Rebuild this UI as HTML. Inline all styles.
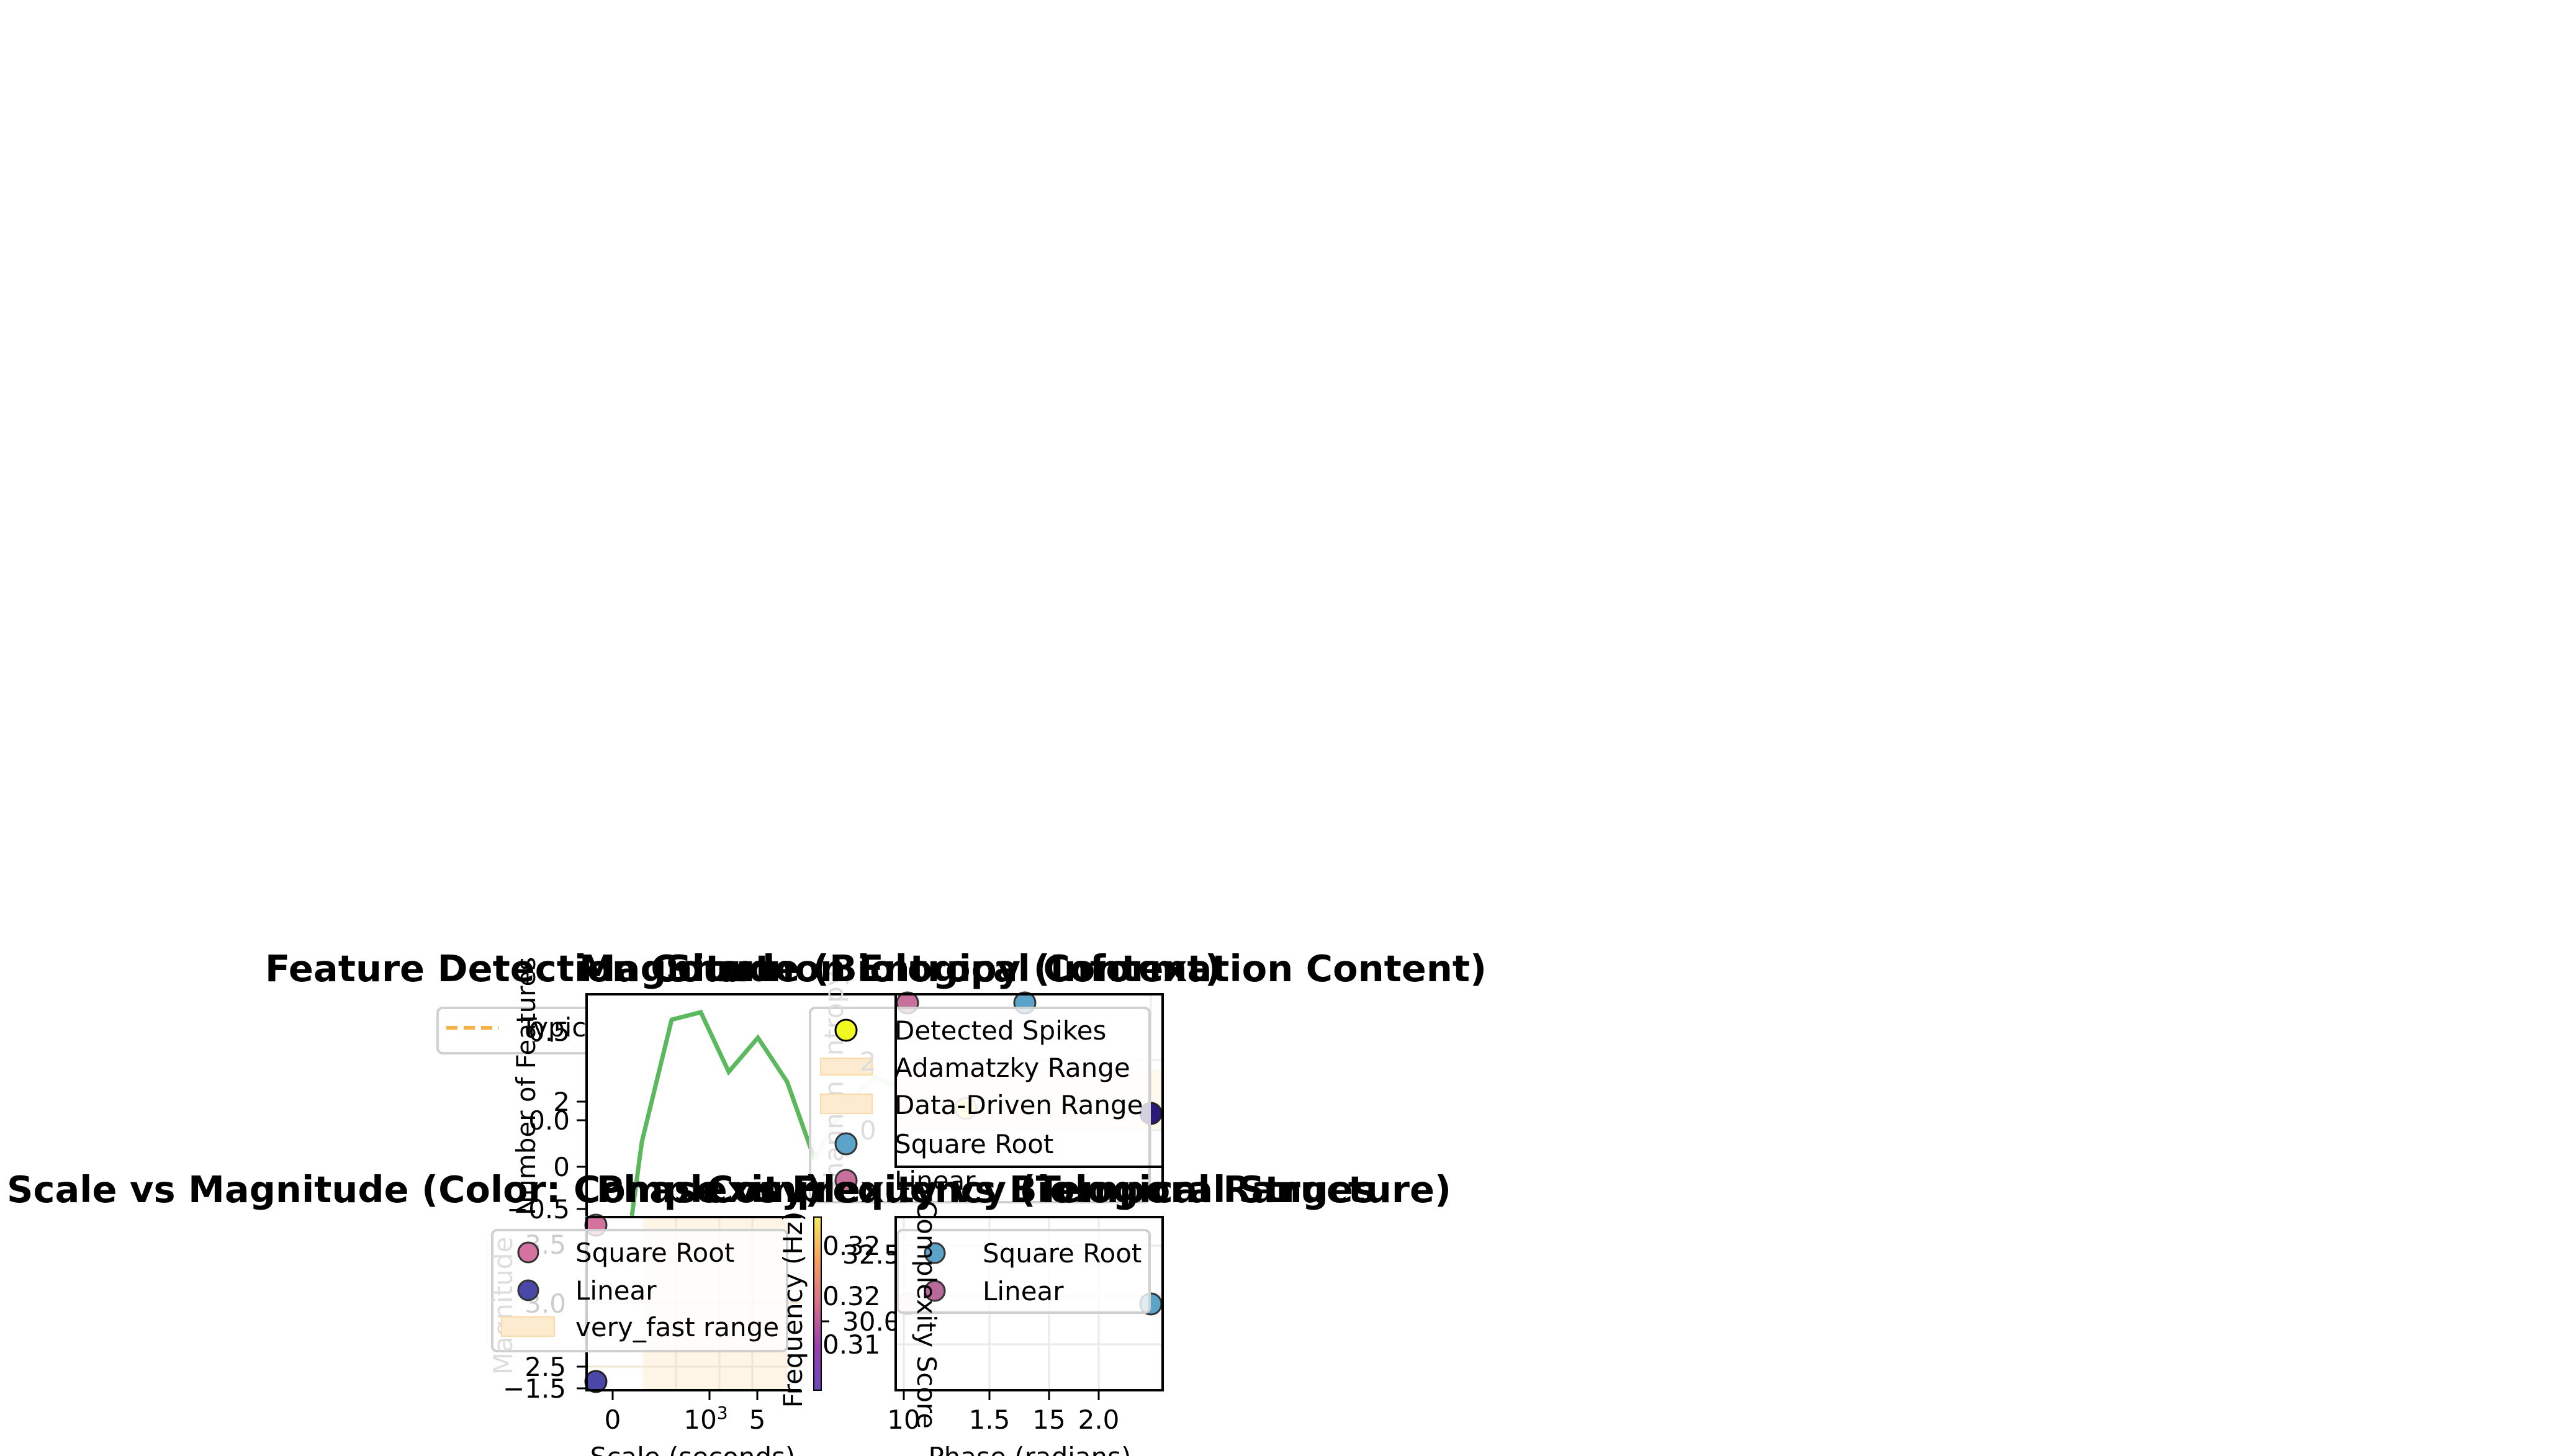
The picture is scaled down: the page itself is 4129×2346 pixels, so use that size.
<!DOCTYPE html>
<html><head><meta charset="utf-8"><style>html,body{margin:0;padding:0;background:#fff}svg{display:block}</style></head>
<body>
<svg xmlns="http://www.w3.org/2000/svg" width="4129" height="2346" viewBox="0 0 4129 2346" font-family="'DejaVu Sans','Liberation Sans',sans-serif">
<defs>
<linearGradient id="plasma" x1="0" y1="1" x2="0" y2="0">
<stop offset="0" stop-color="#6a4bb8"/><stop offset="0.25" stop-color="#9a3fb0"/><stop offset="0.5" stop-color="#d4708c"/><stop offset="0.75" stop-color="#f5a060"/><stop offset="1" stop-color="#f3ea60"/>
</linearGradient>
</defs>
<rect width="4129" height="2346" fill="#fff"/>

<rect x="705" y="1624" width="300" height="73" rx="8" fill="#fff" stroke="#d0d0d0" stroke-width="4"/>
<line x1="719" y1="1656" x2="804" y2="1656" stroke="#f5b041" stroke-width="6" stroke-dasharray="18,10"/>
<text x="839" y="1670" font-size="42">Typic</text>

<rect x="945" y="1602" width="928" height="305" fill="#fff"/>
<polyline points="1018,1959 1034,1840 1082,1643 1129,1631 1174,1727 1221,1672 1268,1743 1312,1867" fill="none" stroke="#5cb85c" stroke-width="7"/>
<polyline points="1312,1867 1361,1781 1410,1735 1440,1750" fill="none" stroke="#d8eed8" stroke-width="7"/>
<rect x="1443" y="1724" width="430" height="97" fill="#fff8ec"/>
<line x1="1443" y1="1708" x2="1873" y2="1708" stroke="#eee" stroke-width="3"/>
<line x1="1443" y1="1821" x2="1873" y2="1821" stroke="#eee" stroke-width="3"/>
<line x1="1854" y1="1602" x2="1854" y2="1880" stroke="#eee" stroke-width="3"/>
<circle cx="1462" cy="1616" r="17" fill="#c8709c" stroke="#333" stroke-width="3"/>
<circle cx="1651" cy="1616" r="17" fill="#5ba3c8" stroke="#333" stroke-width="3"/>
<circle cx="1556" cy="1786" r="17" fill="#f5f28a" stroke="#999" stroke-width="3"/>
<circle cx="1854" cy="1794" r="17" fill="#2b1a7a" stroke="#222" stroke-width="3"/>
<polyline points="945,1960 945,1602 1873,1602 1873,1907" fill="none" stroke="#000" stroke-width="4"/>
<g font-size="42" text-anchor="end" fill="#000">
<text x="918" y="1677">0.5</text>
<text x="918" y="1790">2</text>
<text x="918" y="1820">0.0</text>
<text x="918" y="1895">0</text>
<text x="918" y="1963">−0.5</text>
</g>
<g stroke="#000" stroke-width="3">
<line x1="929" y1="1775" x2="945" y2="1775"/><line x1="929" y1="1805" x2="945" y2="1805"/><line x1="929" y1="1880" x2="945" y2="1880"/><line x1="929" y1="1948" x2="945" y2="1948"/>
</g>
<text transform="translate(862,1750) rotate(-90)" font-size="42" text-anchor="middle">Number of Features</text>

<rect x="1305" y="1624" width="547" height="313" rx="8" fill="#fff" fill-opacity="0.8" stroke="#d0d0d0" stroke-width="4"/>
<text transform="translate(1358,1745) rotate(-90)" font-size="42" text-anchor="middle" fill="#ddd">Shannon Entropy</text>
<circle cx="1363" cy="1660" r="17" fill="#f0f921" stroke="#000" stroke-width="3"/>
<rect x="1322" y="1705" width="83" height="27" fill="#fdebd0" stroke="#fcd9a8" stroke-width="2"/>
<rect x="1322" y="1763" width="83" height="31" fill="#fdebd0" stroke="#fcd9a8" stroke-width="2"/>
<circle cx="1363" cy="1843" r="17" fill="#5ba3c8" stroke="#333" stroke-width="3"/>
<circle cx="1363" cy="1902" r="17" fill="#c8709c" stroke="#333" stroke-width="3"/>
<g font-size="42" fill="#ddd"><text x="1385" y="1725">2</text><text x="1385" y="1836">0</text></g>
<g font-size="42" fill="#000">
<text x="1441" y="1675">Detected Spikes</text>
<text x="1441" y="1735">Adamatzky Range</text>
<text x="1441" y="1795">Data-Driven Range</text>
<text x="1441" y="1858">Square Root</text>
<text x="1441" y="1917">Linear</text>
</g>
<rect x="1443" y="1602" width="430" height="278" fill="none" stroke="#000" stroke-width="4"/>

<g font-weight="bold" font-size="59" fill="#000">
<text x="427" y="1581">Feature Detection Count</text>
<text x="933" y="1581">Magnitude (Biological Context)</text>
<text x="2395" y="1581" text-anchor="end">Shannon Entropy (Information Content)</text>
<text x="11" y="1937">Scale vs Magnitude (Color: Complexity)</text>
<text x="2338" y="1937" text-anchor="end">Phase vs Frequency (Temporal Structure)</text>
<text x="2215" y="1937" text-anchor="end">Complexity vs Biological Ranges</text>
</g>

<rect x="945" y="1961" width="345" height="279" fill="#fff"/>
<rect x="1036" y="1961" width="232" height="279" fill="#fff5e6"/>
<g stroke="#f0e4d2" stroke-width="3">
<line x1="1089" y1="1961" x2="1089" y2="2240"/><line x1="1159" y1="1961" x2="1159" y2="2240"/><line x1="1212" y1="1961" x2="1212" y2="2240"/>
<line x1="945" y1="2099" x2="1290" y2="2099"/><line x1="945" y1="2202" x2="1290" y2="2202"/>
</g>
<circle cx="960" cy="1974" r="17" fill="#d672a0" stroke="#333" stroke-width="3"/>
<circle cx="960" cy="2226" r="17" fill="#4b47a8" stroke="#222" stroke-width="3"/>
<polyline points="945,1961 945,2240 1290,2240" fill="none" stroke="#000" stroke-width="4"/>
<line x1="945" y1="1961" x2="1290" y2="1961" stroke="#000" stroke-width="4"/>
<rect x="793" y="1982" width="475" height="195" rx="8" fill="#fff" fill-opacity="0.8" stroke="#d0d0d0" stroke-width="4"/>
<text transform="translate(825,2104) rotate(-90)" font-size="42" text-anchor="middle" fill="#ddd">Magnitude</text>
<g font-size="42" fill="#ccc" text-anchor="end"><text x="912" y="2020">3.5</text><text x="912" y="2115">3.0</text></g>
<circle cx="851" cy="2018" r="16" fill="#d672a0" stroke="#333" stroke-width="3"/>
<circle cx="851" cy="2079" r="16" fill="#4b47a8" stroke="#333" stroke-width="3"/>
<rect x="808" y="2122" width="85" height="31" fill="#fdebd0" stroke="#fcd9a8" stroke-width="2"/>
<g font-size="42"><text x="927" y="2033">Square Root</text><text x="927" y="2094">Linear</text><text x="927" y="2153">very_fast range</text></g>
<g font-size="42" text-anchor="end"><text x="912" y="2217">2.5</text><text x="912" y="2252">−1.5</text></g>
<g stroke="#000" stroke-width="3"><line x1="929" y1="2202" x2="945" y2="2202"/><line x1="929" y1="2237" x2="945" y2="2237"/>
<line x1="987" y1="2240" x2="987" y2="2256"/><line x1="1143" y1="2240" x2="1143" y2="2256"/><line x1="1220" y1="2240" x2="1220" y2="2256"/></g>
<g font-size="42" text-anchor="middle"><text x="987" y="2302">0</text><text x="1137" y="2302">10<tspan font-size="28" dy="-16">3</tspan></text><text x="1220" y="2302">5</text></g>
<text x="1116" y="2362" font-size="42" text-anchor="middle">Scale (seconds)</text>

<rect x="1311" y="1961" width="12" height="279" fill="url(#plasma)" stroke="#000" stroke-width="2"/>
<text transform="translate(1292,2110) rotate(-90)" font-size="42" text-anchor="middle">Frequency (Hz)</text>
<g font-size="42"><text x="1325" y="2022">0.32</text><text x="1325" y="2103">0.32</text><text x="1325" y="2181">0.31</text>
<text x="1357" y="2036">32.5</text><text x="1357" y="2144">30.0</text></g>
<g stroke="#000" stroke-width="3"><line x1="1323" y1="2129" x2="1336" y2="2129"/><line x1="1430" y1="2021" x2="1443" y2="2021"/><line x1="1430" y1="2129" x2="1443" y2="2129"/></g>

<rect x="1443" y="1961" width="430" height="279" fill="#fff" stroke="#000" stroke-width="4"/>
<g stroke="#eaeaea" stroke-width="3">
<line x1="1456" y1="1961" x2="1456" y2="2240"/><line x1="1594" y1="1961" x2="1594" y2="2240"/><line x1="1690" y1="1961" x2="1690" y2="2240"/><line x1="1770" y1="1961" x2="1770" y2="2240"/>
<line x1="1443" y1="2007" x2="1873" y2="2007"/><line x1="1443" y1="2088" x2="1873" y2="2088"/><line x1="1443" y1="2166" x2="1873" y2="2166"/>
</g>
<circle cx="1462" cy="2101" r="17" fill="#f3e4ec" stroke="#ddd" stroke-width="3"/>
<circle cx="1854" cy="2101" r="17" fill="#5ba3c8" stroke="#333" stroke-width="3"/>
<rect x="1446" y="1982" width="406" height="133" rx="8" fill="#fff" fill-opacity="0.8" stroke="#d0d0d0" stroke-width="4"/>
<circle cx="1506" cy="2019" r="16" fill="#5ba3c8" stroke="#333" stroke-width="3"/>
<circle cx="1506" cy="2080" r="16" fill="#b86a9a" stroke="#333" stroke-width="3"/>
<g font-size="42"><text x="1583" y="2034">Square Root</text><text x="1583" y="2095">Linear</text></g>
<text transform="translate(1478,2118) rotate(90)" font-size="42" text-anchor="middle">Complexity Score</text>
<rect x="1443" y="1961" width="430" height="279" fill="none" stroke="#000" stroke-width="4"/>
<g stroke="#000" stroke-width="3"><line x1="1456" y1="2240" x2="1456" y2="2256"/><line x1="1594" y1="2240" x2="1594" y2="2256"/><line x1="1690" y1="2240" x2="1690" y2="2256"/><line x1="1770" y1="2240" x2="1770" y2="2256"/></g>
<g font-size="42" text-anchor="middle"><text x="1456" y="2302">10</text><text x="1594" y="2302">1.5</text><text x="1690" y="2302">15</text><text x="1770" y="2302">2.0</text></g>
<text x="1659" y="2362" font-size="42" text-anchor="middle">Phase (radians)</text>
</svg>
</body></html>
